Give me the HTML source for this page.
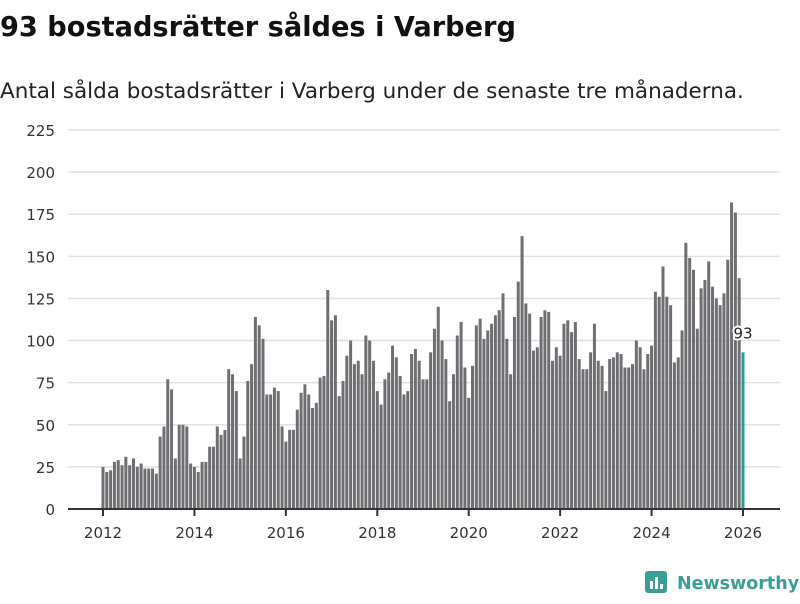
<!DOCTYPE html>
<html><head><meta charset="utf-8"><style>
body{margin:0;width:800px;height:600px;background:#fff;font-family:"DejaVu Sans",sans-serif;overflow:hidden}
</style></head><body>
<svg width="800" height="600" font-family="DejaVu Sans, sans-serif">
<text x="0" y="36" font-size="27.2" font-weight="bold" fill="#111">93 bostadsrätter såldes i Varberg</text>
<text x="0" y="98" font-size="21.5" fill="#222">Antal sålda bostadsrätter i Varberg under de senaste tre månaderna.</text>
<g id="grid"></g><g id="bars"></g><g id="xaxis"></g>
<g>
<rect x="645" y="571" width="22" height="22" rx="3" fill="#3a9e97"/>
<rect x="650" y="581" width="3" height="8" fill="#fff"/><rect x="655" y="577" width="3" height="12" fill="#fff"/><rect x="660" y="584" width="3" height="5" fill="#fff"/>
<text x="677" y="589" font-size="17.5" font-weight="bold" fill="#3a9e97">Newsworthy</text></g>
</svg>
<script>
const yTicks=[0,25,50,75,100,125,150,175,200,225];
const xYears=[2012,2014,2016,2018,2020,2022,2024,2026];
const values=[25,22,23,28,29,26,31,26,30,25,27,24,
24,24,21,43,49,77,71,30,50,50,49,27,
25,22,28,28,37,37,49,44,47,83,80,70,
30,43,76,86,114,109,101,68,68,72,70,49,
40,47,47,59,69,74,68,60,63,78,79,130,
112,115,67,76,91,100,86,88,80,103,100,88,
70,62,77,81,97,90,79,68,70,92,95,88,
77,77,93,107,120,100,89,64,80,103,111,84,
66,85,109,113,101,106,110,115,118,128,101,80,
114,135,162,122,116,94,96,114,118,117,88,96,
91,110,112,105,111,89,83,83,93,110,88,85,
70,89,90,93,92,84,84,86,100,96,83,92,
97,129,126,144,126,121,87,90,106,158,149,142,
107,131,136,147,132,125,121,128,148,182,176,137,
93];
const NS="http://www.w3.org/2000/svg";
const y=v=>509-v*(379/225);
const x=i=>103+i*(640/168);
function mk(t,a,p){const e=document.createElementNS(NS,t);for(const k in a)e.setAttribute(k,a[k]);p.appendChild(e);return e;}
const g=document.getElementById('grid');
yTicks.forEach(t=>{
 if(t>0){const l=mk('line',{x1:68,x2:780,y1:y(t),y2:y(t),stroke:'#e0e0e0','stroke-width':1.5},g);
 
 }
 const tx=mk('text',{x:55,y:y(t)+6,'text-anchor':'end','font-size':15,fill:'#333'},g);
 
 
 tx.textContent=t;});
const b=document.getElementById('bars');
values.forEach((v,i)=>{const last=i===values.length-1;
 const r=mk('rect',{x:x(i)-1.5,y:y(v),width:3,height:509-y(v),fill:last?'#2a9d93':'#6f6e73'},b);
 
 
 if(last){const tx=mk('text',{x:x(i),y:y(v)-14,'text-anchor':'middle','font-size':15,fill:'#222',stroke:'#fff','stroke-width':4,'paint-order':'stroke'},b);
 
 
 tx.textContent=v;}});
const xa=document.getElementById('xaxis');
const ax=mk('line',{x1:68,x2:780,y1:509,y2:509,stroke:'#333','stroke-width':2},xa);


xYears.forEach(yr=>{const px=x((yr-2012)*12);
 const tk=mk('line',{x1:px,x2:px,y1:509,y2:516,stroke:'#333','stroke-width':2},xa);
 
 
 const tx=mk('text',{x:px,y:538,'text-anchor':'middle','font-size':15,fill:'#333'},xa);
 
 
 tx.textContent=yr;});
</script>
</body></html>
